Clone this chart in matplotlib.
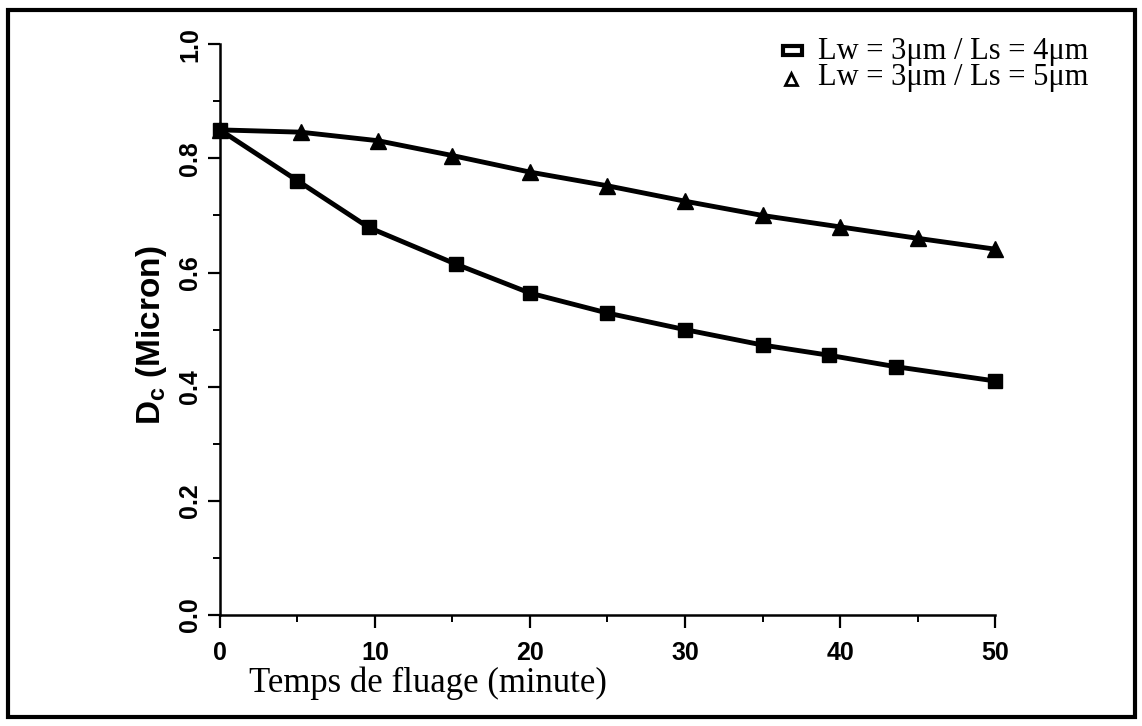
import matplotlib.pyplot as plt
from matplotlib.patches import Rectangle
from matplotlib.ticker import MultipleLocator

# ------------------------------
# Data: creep time (minute) vs Dc (micron)
# ------------------------------
t_ls4 = [0, 5, 9.6, 15.2, 20, 25, 30, 35, 39.3, 43.6, 50]
dc_ls4 = [0.85, 0.761, 0.679, 0.615, 0.564, 0.529, 0.50, 0.473, 0.455, 0.435, 0.41]

t_ls5 = [0, 5.2, 10.2, 15, 20, 25, 30, 35, 40, 45, 50]
dc_ls5 = [0.85, 0.846, 0.831, 0.805, 0.776, 0.752, 0.725, 0.70, 0.68, 0.66, 0.641]

label_ls4 = "Lw = 3\u03bcm / Ls = 4\u03bcm"
label_ls5 = "Lw = 3\u03bcm / Ls = 5\u03bcm"

x_ticks = [0, 10, 20, 30, 40, 50]
y_ticks = [0.0, 0.2, 0.4, 0.6, 0.8, 1.0]

sans = "Liberation Sans"
serif = "Liberation Serif"
plt.rcParams['mathtext.fontset'] = 'custom'
plt.rcParams['mathtext.bf'] = 'Liberation Sans:bold'
plt.rcParams['mathtext.rm'] = 'Liberation Sans:bold'

# ------------------------------
# Figure and axes
# ------------------------------
fig = plt.figure(figsize=(11.42, 7.26), dpi=100)
ax = fig.add_axes([0.1926, 0.153, 0.6787, 0.786])

# border around the whole figure
fig.patches.append(Rectangle((0.007, 0.012), 0.987, 0.974, transform=fig.transFigure,
                             fill=False, edgecolor='black', linewidth=3))

ax.plot(t_ls4, dc_ls4, color='black', lw=3.5, marker='s', ms=9.5,
        mfc='black', mec='black', clip_on=False)
ax.plot(t_ls5, dc_ls5, color='black', lw=3.5, marker='^', ms=11,
        mfc='black', mec='black', clip_on=False)

ax.set_xlim(0, 50)
ax.set_ylim(0, 1.0)
ax.spines['top'].set_visible(False)
ax.spines['right'].set_visible(False)
ax.spines['left'].set_linewidth(1.8)
ax.spines['bottom'].set_linewidth(1.8)

ax.set_xticks(x_ticks)
ax.set_yticks(y_ticks)
ax.xaxis.set_minor_locator(MultipleLocator(5))
ax.yaxis.set_minor_locator(MultipleLocator(0.1))
ax.tick_params(which='major', direction='out', length=9, width=1.6)
ax.tick_params(which='minor', direction='out', length=5, width=1.4)
ax.tick_params(axis='x', which='major', pad=10)
ax.tick_params(axis='y', which='major', pad=4)
ax.set_xticklabels([str(v) for v in x_ticks], fontfamily=sans,
                   fontweight='bold', fontsize=18)
ax.set_yticklabels([f"{v:.1f}" for v in y_ticks], fontfamily=sans,
                   fontweight='bold', fontsize=18, rotation=90, va='center')

ax.set_xlabel("Temps de fluage (minute)", fontfamily=serif, fontsize=25)
ax.xaxis.set_label_coords(0.268, -0.09)
ax.set_ylabel(r"D$_\mathbf{c}$ (Micron)", fontfamily=sans, fontweight='bold',
              fontsize=24)
ax.yaxis.set_label_coords(-0.066, 0.49)

# ------------------------------
# Legend (open symbols, text right-aligned)
# ------------------------------
ax.add_patch(Rectangle((0.727, 0.981), 0.024, 0.016, transform=ax.transAxes,
                       fill=False, edgecolor='black', linewidth=3, clip_on=False))
ax.plot([0.737], [0.940], transform=ax.transAxes, ls='none', marker='^', ms=8,
        mfc='white', mec='black', mew=2, clip_on=False)
ax.text(1.12, 0.975, label_ls4, transform=ax.transAxes, ha='right',
        va='baseline', fontfamily=serif, fontsize=22)
ax.text(1.12, 0.929, label_ls5, transform=ax.transAxes, ha='right',
        va='baseline', fontfamily=serif, fontsize=22)

fig.savefig("out.png", dpi=100)
